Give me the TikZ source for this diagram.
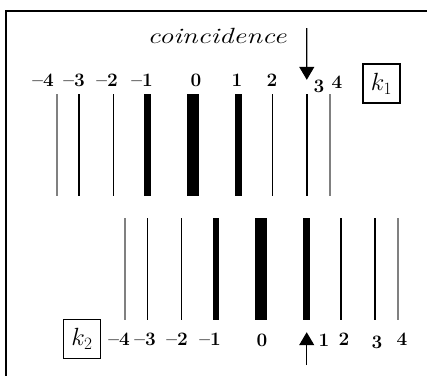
\documentclass[tikz,border=0pt]{standalone}
\usepackage{fontspec}
\usepackage{graphicx}
\usetikzlibrary{arrows.meta,positioning}

\begin{document}
\begin{tikzpicture}[
		x=1pt, y=-1pt,
		>={Triangle[width=15pt,length=13pt]},
		bar/.style={inner sep=0pt, minimum height=102pt},
		num/.style={inner sep=0pt, font=\fontsize{19}{19}\selectfont\bfseries},
		kbox/.style={draw, line width=1.2pt, inner sep=2pt, minimum width=37pt,
			minimum height=39pt, font=\fontsize{26}{26}\selectfont},
		coin/.style={inner sep=0pt, font=\fontsize{22}{22}\selectfont\itshape},
		pointer/.style={->, line width=1.2pt}
		]
		\useasboundingbox (0,0) rectangle (427,376);
		
		% --------------------------------------------------
		% frame (only top and left edge show)
		% --------------------------------------------------
		\draw[line width=2.3pt] (427,11) -- (6,11) -- (6,376);
		
		% --------------------------------------------------
		% bars of both lattices: name/offset/width/colour
		% --------------------------------------------------
		\foreach \n/\dx/\w/\c in {m4/-136.5/2pt/gray, m3/-113.8/1.5pt/black,
			m2/-79.6/1.5pt/black, m1/-45.4/6.5pt/black, z/0/12pt/black,
			p1/45.4/6.5pt/black, p2/79.6/1.5pt/black, p3/113.8/1.5pt/black,
			p4/136.5/2pt/gray} {
			\node[bar, minimum width=\w, fill=\c] (t\n) at (193+\dx,145) {};
			\node[bar, minimum width=\w, fill=\c] (b\n) at (261.3+\dx,269) {};
		}
		
		% --------------------------------------------------
		% labels k1 (top)
		% --------------------------------------------------
		\foreach \n/\lx/\ly/\t in {m4/43/80.5/\textendash4, m3/74/80.5/\textendash3,
			m2/107/80.5/\textendash2, m1/142/80.5/\textendash1, z/196/80.5/0,
			p1/237/80.5/1, p2/272/80.5/2, p3/319/86/3, p4/337/82/4}
		\node[num] (lt\n) at (\lx,\ly) {\t};
		
		% labels k2 (bottom)
		\foreach \n/\lx/\ly/\t in {m4/119/339/\textendash4, m3/145/339/\textendash3,
			m2/177/339/\textendash2, m1/210/339/\textendash1, z/262/340/0,
			p1/324/340/1, p2/344/339/2, p3/377/342/3, p4/402/339/4}
		\node[num] (lb\n) at (\lx,\ly) {\t};
		
		\node[kbox] (k1) at (381.5,83.5) {$k_1$};
		\node[kbox] (k2) at (82,339) {$k_2$};
		
		% --------------------------------------------------
		% coincidence
		% --------------------------------------------------
		\node[coin] (coin) at (217,36) {\scalebox{1.3}[1]{coincidence}};
		
		\coordinate (ctop) at (306.7,28);
		\coordinate (cbot) at (306.7,365);
		\draw[pointer] (ctop) -- ([yshift=14pt]tp3.north);
		\draw[pointer] (cbot) -- ([yshift=-12pt]bp1.south);
		
	\end{tikzpicture}
\end{document}
